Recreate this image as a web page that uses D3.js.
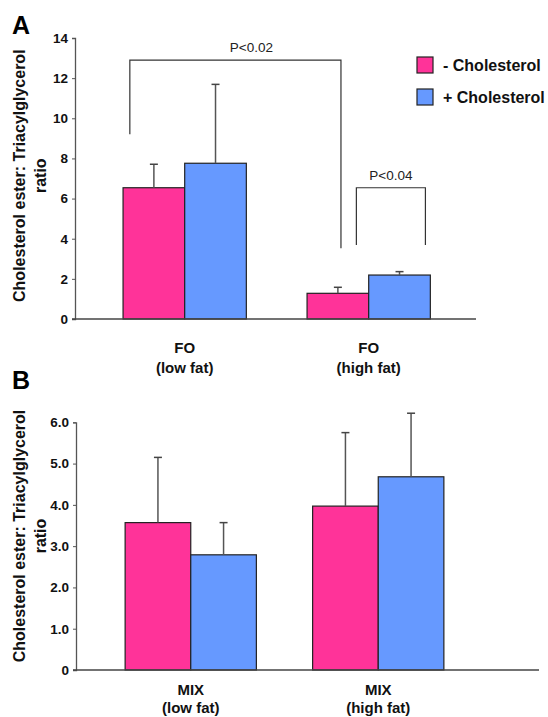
<!DOCTYPE html>
<html>
<head>
<meta charset="utf-8">
<script src="https://cdn.jsdelivr.net/npm/d3@7"></script>
<style>
  body { margin: 0; background: #fff; }
  svg { display: block; font-family: "Liberation Sans", Arial, sans-serif; }
</style>
</head>
<body>
<svg id="chart" width="548" height="717"></svg>
<script>
// series
var seriesNames = ["- Cholesterol", "+ Cholesterol"],
    seriesColors = ["#ff3399", "#6699ff"];

// panel A: fish oil
var groupsA = [["FO", "(low fat)"], ["FO", "(high fat)"]],
    meansA = [[6.54, 7.76], [1.28, 2.19]],
    errA = [[1.17, 3.93], [0.30, 0.17]],
    ticksA = [0, 2, 4, 6, 8, 10, 12, 14];

// significance brackets in panel A (heights in data units)
var bracketsA = [
  { label: "P<0.02", left: 9.2, top: 12.9, right: 3.52 },
  { label: "P<0.04", left: 3.69, top: 6.54, right: 3.69 }
];

// panel B: mixed oil
var groupsB = [["MIX", "(low fat)"], ["MIX", "(high fat)"]],
    meansB = [[3.57, 2.79], [3.97, 4.68]],
    errB = [[1.58, 0.78], [1.78, 1.54]],
    ticksB = [0, 1, 2, 3, 4, 5, 6];

var yTitle = ["Cholesterol ester: Triacylglycerol", "ratio"];

var svg = d3.select("#chart");

function drawPanel(opt) {
  var g = svg.append("g");

  var y = d3.scaleLinear().domain([0, opt.max]).range([opt.bottom, opt.top]);

  var x0 = d3.scaleBand()
      .domain(d3.range(opt.groups.length))
      .range(opt.xRange)
      .paddingInner(opt.pad)
      .paddingOuter(opt.pad / 2);

  var x1 = d3.scaleBand()
      .domain(d3.range(seriesNames.length))
      .range([0, x0.bandwidth()]);

  // bars
  var grp = g.selectAll(".grp")
      .data(opt.means)
      .join("g")
      .attr("transform", function(d, i) { return "translate(" + x0(i) + ",0)"; });

  grp.selectAll("rect")
      .data(function(d) { return d; })
      .join("rect")
      .attr("x", function(d, j) { return x1(j); })
      .attr("y", function(d) { return y(d); })
      .attr("width", x1.bandwidth())
      .attr("height", function(d) { return y(0) - y(d); })
      .attr("fill", function(d, j) { return seriesColors[j]; })
      .attr("stroke", "#222")
      .attr("stroke-width", 1.2);

  // error bars (upper only)
  grp.each(function(d, i) {
    var sel = d3.select(this);
    d.forEach(function(v, j) {
      var cx = x1(j) + x1.bandwidth() / 2,
          top = y(v + opt.err[i][j]);
      sel.append("line")
          .attr("x1", cx).attr("x2", cx)
          .attr("y1", y(v)).attr("y2", top)
          .attr("stroke", "#555").attr("stroke-width", 1.5);
      sel.append("line")
          .attr("x1", cx - 4).attr("x2", cx + 4)
          .attr("y1", top).attr("y2", top)
          .attr("stroke", "#444").attr("stroke-width", 1.5);
    });
  });

  // y axis
  var yAxis = d3.axisLeft(y)
      .tickValues(opt.ticks)
      .tickSize(3)
      .tickPadding(4)
      .tickFormat(opt.fmt);

  var ya = g.append("g")
      .attr("transform", "translate(" + opt.axisX + ",0)")
      .call(yAxis);
  ya.select(".domain").attr("stroke", "#555").attr("stroke-width", 1.3);
  ya.selectAll(".tick line").attr("stroke", "#555");
  ya.selectAll(".tick text")
      .attr("fill", "#111")
      .style("font-size", "13.5px")
      .style("font-weight", "bold");

  // x axis line
  g.append("line")
      .attr("x1", opt.axisX - 3).attr("x2", opt.axisEnd)
      .attr("y1", y(0)).attr("y2", y(0))
      .attr("stroke", "#444").attr("stroke-width", 1.3);

  // category labels
  opt.groups.forEach(function(lines, i) {
    var cx = x0(i) + x0.bandwidth() / 2;
    var t = g.append("text")
        .attr("x", cx)
        .attr("y", opt.labelY)
        .attr("text-anchor", "middle")
        .style("font-size", "15px")
        .style("font-weight", "bold")
        .attr("fill", "#111");
    lines.forEach(function(s, k) {
      t.append("tspan").attr("x", cx).attr("dy", k === 0 ? 0 : opt.lineGap).text(s);
    });
  });

  // y title
  yTitle.forEach(function(s, k) {
    g.append("text")
        .attr("transform", "translate(" + (25 + k * 20.5) + "," + opt.titleY + ") rotate(-90)")
        .attr("text-anchor", "middle")
        .style("font-size", "16px")
        .style("font-weight", "bold")
        .attr("fill", "#111")
        .text(s);
  });

  // panel letter
  g.append("text")
      .attr("x", 12).attr("y", opt.letterY)
      .style("font-size", "25px")
      .style("font-weight", "bold")
      .text(opt.letter);

  return { g: g, x0: x0, x1: x1, y: y };
}

var pA = drawPanel({
  letter: "A", letterY: 34,
  groups: groupsA, means: meansA, err: errA, ticks: ticksA, max: 14,
  fmt: d3.format("d"),
  top: 38, bottom: 319, axisX: 75, axisEnd: 476,
  xRange: [92.7, 460.7], pad: 0.33,
  labelY: 353, lineGap: 20, titleY: 175.7
});

var pB = drawPanel({
  letter: "B", letterY: 389,
  groups: groupsB, means: meansB, err: errB, ticks: ticksB, max: 6,
  fmt: function(d) { return d === 0 ? "0" : d.toFixed(1); },
  top: 422.3, bottom: 670, axisX: 76, axisEnd: 539,
  xRange: [97, 472], pad: 0.3,
  labelY: 695, lineGap: 18, titleY: 536
});

// brackets on panel A
(function() {
  var x0 = pA.x0, y = pA.y, bw = x0.bandwidth();
  var ends = [
    [x0(0) + bw * 0.055, x0(1) + bw * 0.275],
    [x0(1) + bw * 0.4, x0(1) + bw * 0.96]
  ];
  bracketsA.forEach(function(b, i) {
    var xl = ends[i][0], xr = ends[i][1];
    pA.g.append("path")
        .attr("d", "M" + xl + "," + y(b.left) + "V" + y(b.top) + "H" + xr + "V" + y(b.right))
        .attr("fill", "none")
        .attr("stroke", "#333")
        .attr("stroke-width", 1.2);
    pA.g.append("text")
        .attr("x", (xl + xr) / 2 + (i === 0 ? 16 : 0))
        .attr("y", y(b.top) - 8)
        .attr("text-anchor", "middle")
        .style("font-size", "13.5px")
        .attr("fill", "#222")
        .text(b.label);
  });
})();

// legend
var leg = svg.append("g").attr("transform", "translate(417,57)");
seriesNames.forEach(function(s, i) {
  leg.append("rect")
      .attr("x", 0).attr("y", i * 32)
      .attr("width", 16).attr("height", 16)
      .attr("fill", seriesColors[i])
      .attr("stroke", "#222").attr("stroke-width", 1.2);
  leg.append("text")
      .attr("x", 26).attr("y", i * 32 + 14)
      .style("font-size", "16px")
      .style("font-weight", "bold")
      .attr("fill", "#111")
      .text(s);
});
</script>
</body>
</html>
